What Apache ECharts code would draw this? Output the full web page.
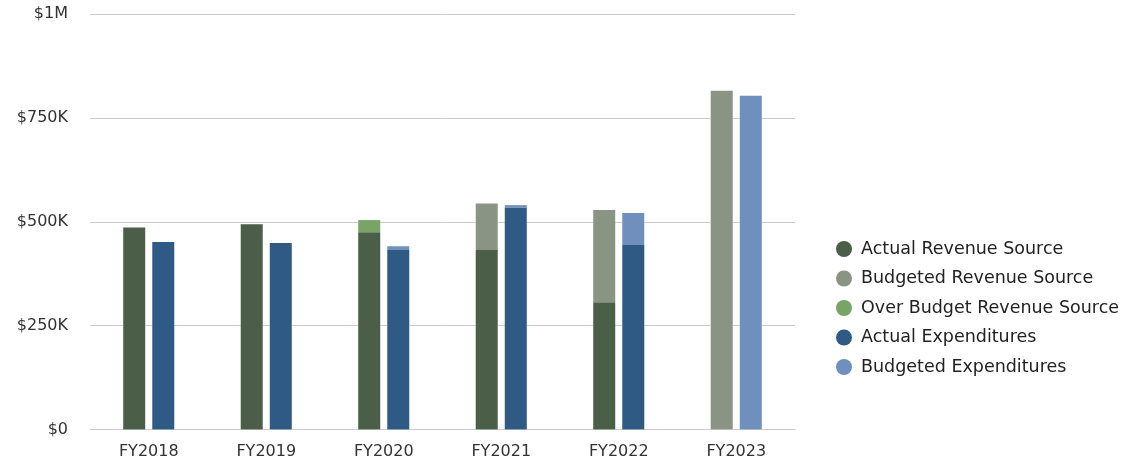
<!DOCTYPE html>
<html>
<head>
<meta charset="utf-8">
<script src="https://cdn.jsdelivr.net/npm/echarts@6/dist/echarts.min.js"></script>
<style>
html,body{margin:0;padding:0;background:#fff;}
#chart{width:1138px;height:467px;}
</style>
</head>
<body>
<div id="chart"></div>
<script>
const categories = ['FY2018', 'FY2019', 'FY2020', 'FY2021', 'FY2022', 'FY2023'];
const actualRevenue = [486000, 494000, 475000, 432000, 306000, 0];
const budgetedRevenue = [0, 0, 0, 112000, 222000, 815000];
const overBudgetRevenue = [0, 0, 29000, 0, 0, 0];
const actualExpenditures = [451000, 449000, 432000, 534000, 444000, 0];
const budgetedExpenditures = [0, 0, 9000, 6000, 77000, 803000];
const yTicks = [0, 250000, 500000, 750000, 1000000];
const yTickLabels = ['$0', '$250K', '$500K', '$750K', '$1M'];

const colors = {
  actualRevenue: '#4b5e47',
  budgetedRevenue: '#8a9484',
  overBudgetRevenue: '#78a466',
  actualExpenditures: '#2e5a84',
  budgetedExpenditures: '#6f8fbc'
};

const revenueTotal = categories.map((_, i) => actualRevenue[i] + budgetedRevenue[i] + overBudgetRevenue[i]);
const expenditureTotal = categories.map((_, i) => actualExpenditures[i] + budgetedExpenditures[i]);

const FONT = "'DejaVu Sans', 'Noto Sans', sans-serif";
const chart = echarts.init(document.getElementById('chart'));

const halo = (name, data) => ({
  name: name, type: 'bar', xAxisIndex: 1, data: data,
  barWidth: 22, barGap: '32%', z: 1, silent: true,
  itemStyle: { color: '#ffffff', borderColor: '#ffffff', borderWidth: 8 },
  emphasis: { disabled: true }
});
const seg = (name, stack, data, color) => ({
  name: name, type: 'bar', stack: stack, data: data,
  barWidth: 22, barGap: '32%', z: 3,
  itemStyle: { color: color }
});

chart.setOption({
  animation: false,
  textStyle: { fontFamily: FONT },
  grid: { left: 90, right: 343, top: 14, bottom: 37.5 },
  legend: {
    orient: 'vertical',
    left: 831, top: 235,
    icon: 'circle',
    itemWidth: 16, itemHeight: 16,
    itemGap: 11.5,
    data: ['Actual Revenue Source', 'Budgeted Revenue Source', 'Over Budget Revenue Source', 'Actual Expenditures', 'Budgeted Expenditures'],
    textStyle: { fontFamily: FONT, fontSize: 17.5, color: '#222', padding: [0, 0, 0, 4] }
  },
  xAxis: [{
    type: 'category', data: categories,
    axisLine: { lineStyle: { color: '#cccccc', width: 1 } },
    axisTick: { show: false },
    axisLabel: { color: '#333', fontSize: 16, fontFamily: FONT, margin: 14 }
  }, {
    type: 'category', data: categories, show: false
  }],
  yAxis: {
    type: 'value', min: 0, max: 1000000, interval: 250000,
    axisLine: { show: false }, axisTick: { show: false },
    splitLine: { lineStyle: { color: '#cccccc', width: 1 } },
    axisLabel: {
      color: '#333', fontSize: 16, fontFamily: FONT, margin: 22,
      formatter: v => yTickLabels[yTicks.indexOf(v)]
    }
  },
  series: [
    halo('haloRevenue', revenueTotal),
    halo('haloExpenditure', expenditureTotal),
    seg('Actual Revenue Source', 'rev', actualRevenue, colors.actualRevenue),
    seg('Budgeted Revenue Source', 'rev', budgetedRevenue, colors.budgetedRevenue),
    seg('Over Budget Revenue Source', 'rev', overBudgetRevenue, colors.overBudgetRevenue),
    seg('Actual Expenditures', 'exp', actualExpenditures, colors.actualExpenditures),
    seg('Budgeted Expenditures', 'exp', budgetedExpenditures, colors.budgetedExpenditures)
  ]
});
</script>
</body>
</html>
